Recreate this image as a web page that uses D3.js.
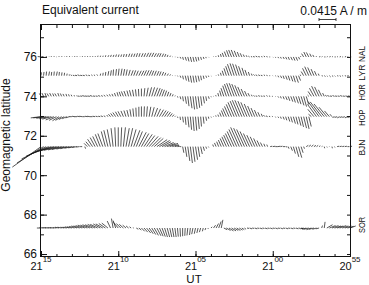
<!DOCTYPE html>
<html>
<head>
<meta charset="utf-8">
<script src="https://cdn.jsdelivr.net/npm/d3@7/dist/d3.min.js"></script>
<style>
  body { margin: 0; background: #fff; }
  svg { display: block; font-family: "Liberation Sans", Arial, Helvetica, sans-serif; }
</style>
</head>
<body>
<svg id="chart"></svg>
<script>
// Set up dimensions
const width = 369;
const height = 285;

// Stations and their geomagnetic latitudes
const stations = ["NAL", "LYR", "HOR", "HOP", "BJN", "SOR"];
const latitudes = [76.0, 75.05, 74.0, 72.97, 71.45, 67.32];

// Time: minutes after 20:00, first sample 21:15, one sample every 10 s going back to 20:55
const startMinute = 75;
const stepSeconds = 10;
const xTickMinutes = [75, 70, 65, 60, 55];
const xTickLabels = [["21", "15"], ["21", "10"], ["21", "05"], ["21", "00"], ["20", "55"]];
const yTickValues = [66, 68, 70, 72, 74, 76];
const scaleBarValue = 0.0415; // A/m

// Equivalent current, east and north components in mA/m
const nalEast = [-8,-5, 1,1,0,1,1,0,1,1,0,1,1,1,0,1,1,1,1,1, 1,1,1,1,1,1,2,2,2,2,2,2,2,2,3,3,3,3,3,4, 4,5,5,5,5,5,4,4,3,2,2,1,1, 1,2,2,3,3,3,3,3,2,2,2,1,1, 0,0,-1, -1,-2,-4,-5,-6,-7,-7,-6,-5,-4,-3,-2, -3,-3,-4,-4,-4,-3,-3,-3,-2, 1,1,2,2,3,3,3,4,4,4,3, -2,-5,-6,-6,-4,-3,-1, 3,2,3,2,3,2,3,2,3,2,3,2,3];
const nalNorth = [1,1, 2,1,2,2,1,2,2,1,2,2,1,2,2,1,2,2,2,2, 2,2,3,3,3,4,4,5,5,6,6,6,7,7,8,8,8,9,9,9, 9,10,10,10,9,9,9,8,7,5,3,1,0, -2,-4,-7,-9,-11,-12,-12,-11,-9,-7,-5,-3,-1, 0,1,2, 4,7,10,13,16,17,17,15,12,9,6,4, 2,1,1,2,1,1,2,1,0, -1,-2,-3,-4,-5,-6,-7,-8,-9,-9,-6, 2,8,12,11,8,5,2, 1,1,0,1,1,1,0,1,1,0,1,1,0];

const lyrEast = [1,1,1,2,1,1,2,1,1,1,1,0, -3,-4,-5,-5,-5,-5,-4,-4,-3,-3,-2, 1,1,1,2,2,1,2,2,3,3,3,4, 5,5,5,6,6,6,6,6,5,5,5,4,4, 3,3,2,1,1, 1,2,2,3,3,3,3,3,3,2,2,2,1,1, 0,0,-1, -2,-4,-6,-8,-10,-10,-10,-9,-8,-6,-5,-3,-2, -3,-4,-4,-4,-3,-3,-2, 1,2,2,3,3,4,4,5,5,6,5, -3,-6,-9,-10,-9,-7,-5,-2, 3,3,2,3,3,2,3,3,2,3,3,2];
const lyrNorth = [8,9,10,10,9,10,10,9,8,7,5,3, 2,1,1,2,1,1,2,1,2,2,3, 5,7,9,11,13,15,16,17,17,16,15,14, 13,13,12,12,12,13,13,13,12,12,11,10,9, 7,5,3,1,0, -2,-5,-9,-12,-15,-17,-17,-16,-14,-11,-8,-5,-3,-1, 0,1,3, 7,12,18,23,28,30,29,27,23,19,14,9,5, 3,2,2,1,2,1,0, -1,-2,-4,-6,-8,-10,-12,-14,-16,-17,-12, 2,10,18,22,20,16,11,5, -1,-2,-2,-3,-2,-2,-1,-2,-1,-1,0,-1];

const horEast = [-4,-4,-3,-4,-4,-3,-4,-3,-3,-3,-2,-2,-2,-1,-1, -5,-5,-6,-6,-6,-6,-5,-5,-5,-4,-4,-3,-3,-3,-3, -3,-4,-5,-5,-4,-4,-3,-2,-1,0, 2,4,6,7,8,8,7,6,5,4, 3,2,1, 1,2,2,3,3,4,4,4,4,3,3,2,2,1, 0,-1, -2,-4,-7,-9,-11,-12,-12,-12,-11,-10,-8,-6,-4,-2, -3,-4,-4,-4,-4,-3,-3,-2, 1,2,2,3,4,4,5,5,6,6,7,7,6, -3,-8,-11,-12,-11,-8,-4, -4,-5,-5,-5,-5,-5,-5,-5,-5,-5];
const horNorth = [7,8,8,7,8,7,7,8,7,6,6,5,4,3,2, 1,1,2,1,1,2,1,1,2,2,3,4,5,6,8, 10,11,12,13,14,15,16,17,18,19, 20,21,22,22,21,20,18,16,14,11, 8,5,2, -3,-7,-12,-18,-24,-29,-32,-31,-28,-23,-17,-11,-6,-2, 1,3, 8,14,20,26,30,32,32,30,27,23,18,13,8,4, 2,1,2,1,1,2,1,0, -1,-3,-5,-7,-9,-11,-13,-15,-17,-19,-22,-25,-20, 3,12,20,25,23,16,8, 3,2,1,2,1,1,2,1,1,1];

const hopEast = [-25,-25,-24,-23,-22,-20,-18,-16,-15,-13,-11,-9, -7,-6,-7,-6,-7,-6,-6,-7,-6,-6,-5,-5,-5,-4, -3,-5,-6,-7,-7,-7,-6,-5,-4, -3,-2,-1,0,0,1,2, 4,6,8,9,10,10,9,8, 6,4,2, 1,1,2,2,3,3,3,3,3,2,2,2,1,1, 0,-1, -2,-4,-6,-9,-11,-13,-15,-16,-17,-17,-16,-15,-13,-11,-9,-7,-5,-3, -4,-4,-3,-2, 1,2,2,3,3,4,4,5,5,6,6,7,7,6, -7,-15,-22,-27,-28,-25,-19,-12,-5, -5,-6,-6,-6,-6,-6,-6];
const hopNorth = [-3,-3,-4,-5,-6,-8,-9,-10,-9,-7,-5,-3, 0,1,0,1,1,0,1,1,0,1,1,1,2,2, 4,6,8,10,12,13,14,15,16, 18,20,22,24,25,25,25, 24,23,21,19,17,15,13,11, 8,5,2, -3,-8,-14,-20,-26,-32,-35,-34,-30,-24,-17,-10,-5,-2, 1,3, 5,10,15,20,25,30,35,38,40,40,38,35,31,26,21,16,11,7, 4,2,1,1, -2,-3,-5,-7,-9,-12,-14,-17,-19,-22,-25,-28,-30,-24, 6,18,30,37,36,31,23,14,6, -2,-2,-3,-2,-2,-3,-2];

const bjnEast = [-70,-65,-60,-55,-50,-45,-40,-37,-33,-30,-25,-22,-18,-15,-12,-8,-5,2, -8,-10,-12,-12,-12,-12,-12,-10,-10,-8,-5,-2,0,2,5,8,10,12,15,15,18,18,20,20,22,22,22,25,25,22,22,20,20, 15,10,6,3, 3,4,5,5,5,5,4,4,3,2, 1,0, -2,-4,-5,-7,-9,-11,-13,-15,-17,-19,-21,-20,-19,-17,-15,-13,-11,-9,-7,-5,-3,-2, 5,6,6,6,5,5,4, 2,4,5,7,8,5,2, 5,5,5,5,4,3,2, 1,1,0,1,1, 5,5,5,5,5,5];
const bjnNorth = [-50,-40,-30,-23,-18,-13,-10,-9,-8,-7,-6,-5,-4,-3,-2,-1,0,-5, 8,12,18,22,25,30,32,37,40,42,45,47,47,47,47,45,45,42,40,37,35,32,30,27,25,22,20,17,15,12,10,8,8, 5,3,1,0, -15,-25,-35,-40,-37,-32,-25,-18,-10,-5, -2,0, 5,9,12,16,20,24,28,32,37,42,47,45,42,37,32,28,24,20,15,10,7,5, 1,1,0,1,1,0,-1, -5,-10,-17,-25,-27,-15,-5, 3,4,4,3,3,2,1, -4,-2,-1,-4,-2, 1,1,1,1,0,1];

const sorEast = [-10,-10,-9,-10,-9,-10,-9,-10,-10,-9,-10,-11,-12, -13,-14,-15,-16,-17,-17,-18,-18,-18,-18,-17,-17,-16,-15, -8,-4,-6, -12,-11,-10,-8,-6,-4,-2, 5,6,8,9,10,10,10,10,10,9,8,7,6,5,4,3,2,1,0,-1,-2,-2,-3,-3, -3,-3,-2,-2,-1, 3,5,6,6,4, 8,10,11,11,10,9,8,6,4, 5,6,5,6,5,6,5,6,5,6,5,6,5,6,5,6,5,6,5,6,5,6, -8,-10,-12,-12,-12,-10,-8,2, 2, 14,15,16,16,15,16,15,16,15,14];
const sorNorth = [0,1,1,1,1,1,1,2,2,2,2,3,3, 4,5,5,6,7,7,8,8,9,9,10,10,11,12, 17,23,18, 14,11,9,7,5,3,1, -3,-5,-8,-10,-12,-14,-16,-18,-19,-20,-21,-22,-22,-22,-22,-22,-21,-21,-20,-19,-18,-17,-15,-14, -12,-10,-8,-5,-2, 3,7,11,16,20, -4,-6,-7,-7,-6,-6,-5,-4,-3, -1,-2,-1,-2,-1,-2,-1,-2,-1,-2,-1,-2,-1,-2,-1,-2,-1,-2,-1,-2,-1,-2, -2,-3,-3,-4,-3,-3,-2,6, 15, 8,6,6,5,5,6,5,5,4,5];

const eastLists = [nalEast, lyrEast, horEast, hopEast, bjnEast, sorEast];
const northLists = [nalNorth, lyrNorth, horNorth, hopNorth, bjnNorth, sorNorth];

// label nudges (px) for the rotated station names
const labelNudge = [-3, -3, -4, 1, 1, -3];

const svg = d3.select("#chart").attr("width", width).attr("height", height);

// Scales
const x = d3.scaleLinear().domain([75, 55]).range([41, 350]);
const y = d3.scaleLinear().domain([65.85, 77.62]).range([257, 25]);
const vec = d3.scaleLinear().domain([0, scaleBarValue]).range([0, 17]);

const minuteTicks = d3.range(55, 76);
const degreeTicks = d3.range(66, 78);

function addAxis(axis, transform) {
  const g = svg.append("g").attr("transform", transform).call(axis);
  g.select(".domain").remove();
  g.selectAll("line").attr("stroke", "#111");
  return g;
}

// Ticks on all four sides, pointing inwards
addAxis(d3.axisBottom(x).tickValues(minuteTicks).tickSize(-3).tickFormat(""), "translate(0,257)");
addAxis(d3.axisBottom(x).tickValues(xTickMinutes).tickSize(-6).tickFormat(""), "translate(0,257)");
addAxis(d3.axisTop(x).tickValues(minuteTicks).tickSize(-3).tickFormat(""), "translate(0,25)");
addAxis(d3.axisTop(x).tickValues(xTickMinutes).tickSize(-5).tickFormat(""), "translate(0,25)");
addAxis(d3.axisLeft(y).tickValues(degreeTicks).tickSize(-3).tickFormat(""), "translate(41,0)");
const leftAxis = addAxis(
  d3.axisLeft(y).tickValues(yTickValues).tickSize(-6).tickPadding(4).tickFormat(d3.format("d")),
  "translate(41,0)"
);
leftAxis.selectAll("text").attr("font-size", 12).attr("font-family", null).attr("fill", "#111");
addAxis(d3.axisRight(y).tickValues(degreeTicks).tickSize(-3).tickFormat(""), "translate(350,0)");

// Frame
svg.append("rect")
  .attr("x", 40.5).attr("y", 24.5)
  .attr("width", 310).attr("height", 232)
  .attr("fill", "none").attr("stroke", "#111").attr("stroke-width", 1);

// Time labels with superscript minutes
const xLabels = svg.append("g").attr("font-size", 11).attr("fill", "#111");
xTickMinutes.forEach((m, k) => {
  const t = xLabels.append("text").attr("x", x(m)).attr("y", 270).attr("text-anchor", "middle");
  t.append("tspan").text(xTickLabels[k][0]);
  t.append("tspan").attr("font-size", 8).attr("dy", -8).text(xTickLabels[k][1]);
});

svg.append("text").attr("x", 194).attr("y", 283).attr("text-anchor", "middle")
  .attr("font-size", 11.5).attr("fill", "#111").text("UT");

svg.append("text")
  .attr("transform", "translate(10,135) rotate(-90)")
  .attr("text-anchor", "middle").attr("font-size", 12).attr("fill", "#111")
  .text("Geomagnetic latitude");

svg.append("text").attr("x", 42).attr("y", 14)
  .attr("font-size", 12).attr("fill", "#111").text("Equivalent current");

svg.append("text").attr("x", 367).attr("y", 15).attr("text-anchor", "end")
  .attr("font-size", 12).attr("fill", "#111").text("0.0415 A / m");

// Scale bar
const barX = 319, barY = 19.5, barLen = vec(scaleBarValue);
const bar = svg.append("g").attr("stroke", "#111").attr("stroke-width", 0.8);
bar.append("line").attr("x1", barX).attr("x2", barX + barLen).attr("y1", barY).attr("y2", barY);
bar.append("line").attr("x1", barX).attr("x2", barX).attr("y1", barY - 1.5).attr("y2", barY + 1.5);
bar.append("line").attr("x1", barX + barLen).attr("x2", barX + barLen).attr("y1", barY - 1.5).attr("y2", barY + 1.5);

// Stick plots
stations.forEach((name, s) => {
  const east = eastLists[s];
  const north = northLists[s];
  const y0 = y(latitudes[s]);
  const xt = (i) => x(startMinute - (i * stepSeconds) / 60);

  svg.append("g")
    .attr("stroke", "#111")
    .attr("stroke-width", 0.7)
    .selectAll("line")
    .data(d3.range(east.length))
    .join("line")
    .attr("x1", (i) => xt(i))
    .attr("y1", y0)
    .attr("x2", (i) => xt(i) + vec(east[i] / 1000))
    .attr("y2", (i) => y0 - vec(north[i] / 1000));

  // station name on the right
  svg.append("text")
    .attr("transform", `translate(365,${y0 + labelNudge[s]}) rotate(-90)`)
    .attr("text-anchor", "middle")
    .attr("font-size", 9.5)
    .attr("textLength", 16)
    .attr("lengthAdjust", "spacingAndGlyphs")
    .attr("fill", "#111")
    .text(name);
});
</script>
</body>
</html>
